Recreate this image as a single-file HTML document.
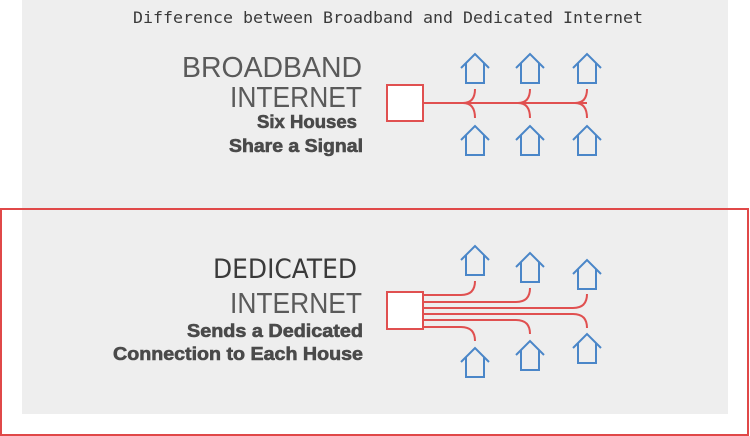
<!DOCTYPE html>
<html><head><style>
html,body{margin:0;padding:0;background:#fff;}
svg{display:block;}
</style></head><body>
<svg width="750" height="436" viewBox="0 0 750 436" xmlns="http://www.w3.org/2000/svg">
<defs>
<g id="h" fill="none" stroke="#4a86c8" stroke-width="2">
<path d="M-14 14 L0 0 L14 14 M-9 9 V29 H9 V9"/>
</g>
</defs>
<rect x="22" y="0" width="706" height="414" fill="#eeeeee"/>
<rect x="1" y="209" width="747" height="226" fill="none" stroke="#e04848" stroke-width="2"/>
<text x="388" y="23" font-family="DejaVu Sans Mono, monospace" font-size="16" fill="#3a3a3a" text-anchor="middle" textLength="510" lengthAdjust="spacingAndGlyphs">Difference between Broadband and Dedicated Internet</text>

<g font-family="Liberation Sans, sans-serif" fill="#555">
<text x="182" y="77" font-size="29" textLength="180" lengthAdjust="spacingAndGlyphs" fill="#5a5a5a">BROADBAND</text>
<text x="230" y="107" font-size="29" textLength="132" lengthAdjust="spacingAndGlyphs" fill="#5a5a5a">INTERNET</text>
<text x="357" y="128" font-size="18" font-weight="bold" text-anchor="end" textLength="100" lengthAdjust="spacingAndGlyphs" fill="#4a4a4a" stroke="#4a4a4a" stroke-width="0.6">Six Houses</text>
<text x="363" y="152" font-size="18" font-weight="bold" text-anchor="end" textLength="134" lengthAdjust="spacingAndGlyphs" fill="#4a4a4a" stroke="#4a4a4a" stroke-width="0.6">Share a Signal</text>
<text x="213" y="278" font-size="27" textLength="144" lengthAdjust="spacingAndGlyphs" fill="#3a3a3a" font-family="DejaVu Sans, sans-serif">DEDICATED</text>
<text x="230" y="313" font-size="29" textLength="132" lengthAdjust="spacingAndGlyphs" fill="#5a5a5a">INTERNET</text>
<text x="363" y="337" font-size="18" font-weight="bold" text-anchor="end" textLength="176" lengthAdjust="spacingAndGlyphs" fill="#4a4a4a" stroke="#4a4a4a" stroke-width="0.6">Sends a Dedicated</text>
<text x="363" y="360" font-size="18" font-weight="bold" text-anchor="end" textLength="250" lengthAdjust="spacingAndGlyphs" fill="#4a4a4a" stroke="#4a4a4a" stroke-width="0.6">Connection to Each House</text>
</g>

<!-- broadband -->
<g fill="none" stroke="#e05050" stroke-width="2">
<rect x="387" y="85" width="36" height="36" fill="#fff"/>
<path d="M423 103 H587"/>
<path d="M475 89 Q475 103 463 103 Q475 103 475 118"/>
<path d="M530 89 Q530 103 518 103 Q530 103 530 118"/>
<path d="M587 89 Q587 103 575 103 Q587 103 587 118"/>
</g>
<use href="#h" x="475" y="54"/><use href="#h" x="530" y="54"/><use href="#h" x="587" y="54"/>
<use href="#h" x="475" y="126"/><use href="#h" x="530" y="126"/><use href="#h" x="587" y="126"/>

<!-- dedicated -->
<g fill="none" stroke="#e05050" stroke-width="2">
<rect x="387" y="292" width="36" height="37" fill="#fff"/>
<path d="M423 295 H461 Q475 295 475 281"/>
<path d="M423 302 H516 Q530 302 530 288"/>
<path d="M423 308 H573 Q587 308 587 294"/>
<path d="M423 314 H573 Q587 314 587 328"/>
<path d="M423 320 H516 Q530 320 530 334"/>
<path d="M423 327 H461 Q475 327 475 341"/>
</g>
<use href="#h" x="475" y="246"/><use href="#h" x="530" y="253"/><use href="#h" x="587" y="260"/>
<use href="#h" x="475" y="348"/><use href="#h" x="530" y="341"/><use href="#h" x="587" y="334"/>
</svg>
</body></html>
